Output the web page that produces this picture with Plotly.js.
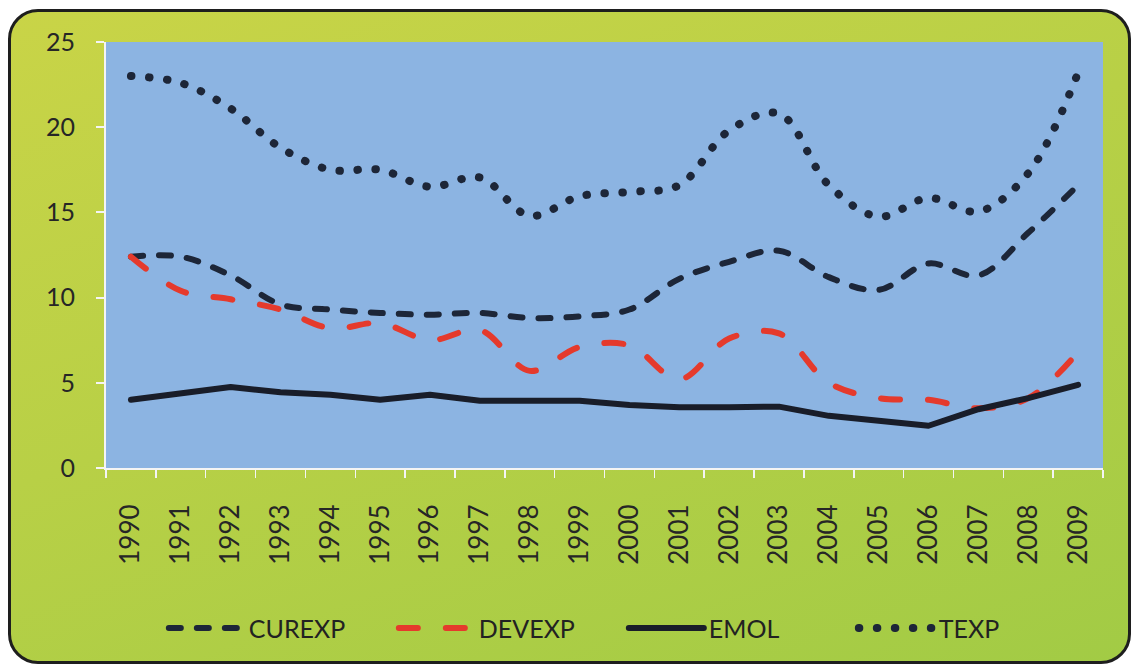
<!DOCTYPE html>
<html>
<head>
<meta charset="utf-8">
<script src="https://cdn.plot.ly/plotly-3.0.1.min.js"></script>
<style>
  html, body { margin: 0; padding: 0; background: #ffffff; }
  #frame {
    position: absolute; left: 8px; top: 9px; width: 1117px; height: 649px;
    border: 3px solid #1e1e1e; border-radius: 30px;
    background: linear-gradient(160deg, #c9d447 0%, #b8d046 45%, #a2cb45 100%);
  }
  #chart { position: absolute; left: 0; top: 0; width: 1132px; height: 667px; }
  .scatterlayer path.js-line, .legendlines path { stroke-linecap: round; stroke-linejoin: round; }
</style>
</head>
<body>
<div id="frame"></div>
<div id="chart"></div>
<script>
const years = ['1990','1991','1992','1993','1994','1995','1996','1997','1998','1999',
               '2000','2001','2002','2003','2004','2005','2006','2007','2008','2009'];
const curexp = [12.4, 12.4, 11.3, 9.6, 9.3, 9.1, 9.0, 9.1, 8.8, 8.9,
                9.3, 11.1, 12.1, 12.75, 11.2, 10.45, 12.0, 11.3, 13.8, 16.6];
const devexp = [12.4, 10.4, 9.9, 9.3, 8.2, 8.5, 7.5, 8.1, 5.7, 7.1,
                7.2, 5.2, 7.6, 7.9, 5.0, 4.1, 4.0, 3.5, 4.1, 6.8];
const emol   = [4.0, 4.4, 4.75, 4.45, 4.3, 4.0, 4.3, 3.95, 3.95, 3.95,
                3.7, 3.57, 3.57, 3.6, 3.06, 2.73, 2.48, 3.45, 4.1, 4.88];
const texp   = [23.0, 22.6, 21.1, 18.8, 17.5, 17.5, 16.5, 17.05, 14.8, 15.95,
                16.2, 16.6, 19.8, 20.8, 16.6, 14.75, 15.85, 15.05, 17.3, 23.2];
const seriesNames = ['CUREXP', 'DEVEXP', 'EMOL', 'TEXP'];
const yTicks = [0, 5, 10, 15, 20, 25];

const traces = [
  { x: years, y: curexp, name: seriesNames[0], type: 'scatter', mode: 'lines',
    line: { color: '#1d2638', width: 6, dash: '12px,16px', shape: 'spline', smoothing: 1 } },
  { x: years, y: devexp, name: seriesNames[1], type: 'scatter', mode: 'lines',
    line: { color: '#e53a2c', width: 6, dash: '19px,28px', shape: 'spline', smoothing: 1 } },
  { x: years, y: emol, name: seriesNames[2], type: 'scatter', mode: 'lines',
    line: { color: '#191d29', width: 6, shape: 'linear' } },
  { x: years, y: texp, name: seriesNames[3], type: 'scatter', mode: 'lines',
    line: { color: '#1d2638', width: 8, dash: '0.5px,17.5px', shape: 'spline', smoothing: 1 } }
];

const layout = {
  width: 1132, height: 667,
  margin: { l: 106, r: 29, t: 42, b: 199, autoexpand: false },
  paper_bgcolor: 'rgba(0,0,0,0)',
  plot_bgcolor: '#8cb4e2',
  font: { family: 'Lato, "Open Sans", sans-serif', color: '#262626' },
  showlegend: true,
  legend: {
    orientation: 'h', x: 0.058, xanchor: 'left', xref: 'paper',
    y: -0.376, yanchor: 'middle', yref: 'paper',
    font: { family: 'Lato, sans-serif', size: 25, color: '#222222' },
    bgcolor: 'rgba(0,0,0,0)', itemwidth: 75, entrywidth: 140, entrywidthmode: 'pixels'
  },
  xaxis: {
    type: 'category', range: [-0.5, 19.5], tickangle: -90, automargin: false,
    tickson: 'boundaries', ticks: 'outside', ticklen: 8, tickcolor: '#f4f4f4', tickwidth: 1.5,
    showline: true, linecolor: '#f4f4f4', linewidth: 2,
    showgrid: false, zeroline: false,
    tickfont: { family: 'Lato, sans-serif', size: 26, color: '#262626' },
    ticklabelstandoff: 24
  },
  yaxis: {
    range: [0, 25], tickvals: yTicks, ticktext: yTicks.map(String), automargin: false,
    ticks: 'outside', ticklen: 8, tickcolor: '#f4f4f4', tickwidth: 2,
    showline: true, linecolor: '#f4f4f4', linewidth: 2,
    showgrid: false, zeroline: false,
    tickfont: { family: 'Lato, sans-serif', size: 25, color: '#262626' },
    ticklabelstandoff: 16
  }
};

Plotly.newPlot('chart', traces, layout, { displayModeBar: false, staticPlot: true });
</script>
</body>
</html>
